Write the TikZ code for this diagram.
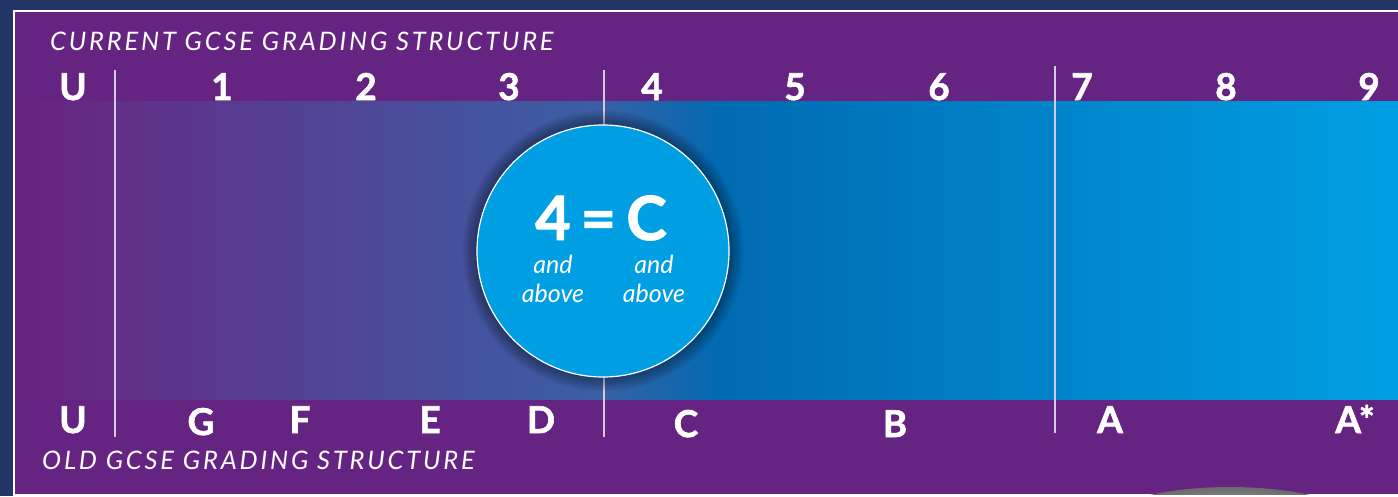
\documentclass[tikz,border=0pt]{standalone}
\usepackage{fontspec}
\setsansfont{Lato}
\newfontfamily\gradefont[BoldFeatures={FakeBold=1.6}]{Lato}
\newfontfamily\headfont[LetterSpace=11]{Lato}
\usetikzlibrary{positioning}
\definecolor{bgcolor}{RGB}{35, 53, 103}
\definecolor{panelcolor}{RGB}{102, 36, 130}
\definecolor{bandA}{RGB}{104, 35, 127}
\definecolor{bandB}{RGB}{99, 45, 134}
\definecolor{bandC}{RGB}{97, 48, 135}
\definecolor{bandD}{RGB}{58, 95, 165}
\definecolor{bandE}{RGB}{0, 106, 177}
\definecolor{bandF}{RGB}{0, 159, 227}
\definecolor{badgecolor}{RGB}{0, 158, 226}
\definecolor{linecolor}{RGB}{215, 200, 230}
\tikzset{
    font=\sffamily,
    grade/.style = {
        text=white, inner sep=0pt, anchor=base,
        font=\gradefont\bfseries\fontsize{37}{37}\selectfont
    },
    heading/.style = {
        text=white, inner sep=0pt, anchor=base west,
        font=\headfont\itshape\fontsize{25.5}{25.5}\selectfont
    },
    badge/.style = {
        circle, minimum size=252pt, inner sep=0pt, fill=badgecolor,
        draw=white, line width=1.2pt
    },
    bigtext/.style = {
        text=white, inner sep=0pt, anchor=base,
        font=\gradefont\bfseries\fontsize{61}{61}\selectfont
    },
    smalltext/.style = {
        text=white, inner sep=0pt, anchor=north, align=center,
        font=\sffamily\itshape\fontsize{25}{29}\selectfont
    },
    divider/.style = {draw=linecolor, line width=1.5pt}
}
\begin{document}
\begin{tikzpicture}[x=1pt, y=-1pt]
\useasboundingbox (0,0) rectangle (1398,496);
% Background and panel
\fill[bgcolor] (0,0) rectangle (1398,496);
\fill[panelcolor, draw=white, line width=1.2pt] (14,11) rectangle (1410,495);
\begin{scope}
\clip (15,12) rectangle (1398,494);
\shade[inner color=gray!55, outer color=gray!85!black] (1230,527) ellipse (133pt and 40pt);
\end{scope}
% Colour band
\shade[left color=bandA, right color=bandB] (15,101) rectangle (115,399);
\shade[left color=bandC, right color=bandD] (115,101) rectangle (600,399);
\shade[left color=bandD, right color=bandE] (600,101) rectangle (720,399);
\shade[left color=bandE, right color=bandF] (720,101) rectangle (1398,399);
% Dividers
\draw[divider] (115,70) -- (115,437);
\draw[divider] (604,70) -- (604,437);
\draw[divider] (1055,66) -- (1055,433);
% Headings
\node[heading] (current) at (50,50) {CURRENT GCSE GRADING STRUCTURE};
\node[heading] (old) at (42,469) {OLD GCSE GRADING STRUCTURE};
% New grades
\foreach \g/\x in {U/73, 1/222, 2/366, 3/509, 4/652, 5/795, 6/939, 7/1082, 8/1226, 9/1369}
    \node[grade] (new\g) at (\x,100) {\g};
% Old grades
\foreach \g/\x/\y in {U/73/433, G/201/435, F/300/433, E/430/433, D/541/433, C/686/437, B/895/437, A/1110/433}
    \node[grade] (old\g) at (\x,\y) {\g};
\node[grade] (oldAstar) at (1355,433) {A*};
% Badge
\foreach \k in {1,...,9}
    \fill[black, opacity=0.045] (603,251) circle ({126pt+\k*1.6pt});
\node[badge] (badge) at (603,251) {};
\node[bigtext] (equal) at (601,240) {4\,=\,C};
\node[smalltext] (newabove) at (553,255) {and\\above};
\node[smalltext] (oldabove) at (654,255) {and\\above};
\end{tikzpicture}
\end{document}
